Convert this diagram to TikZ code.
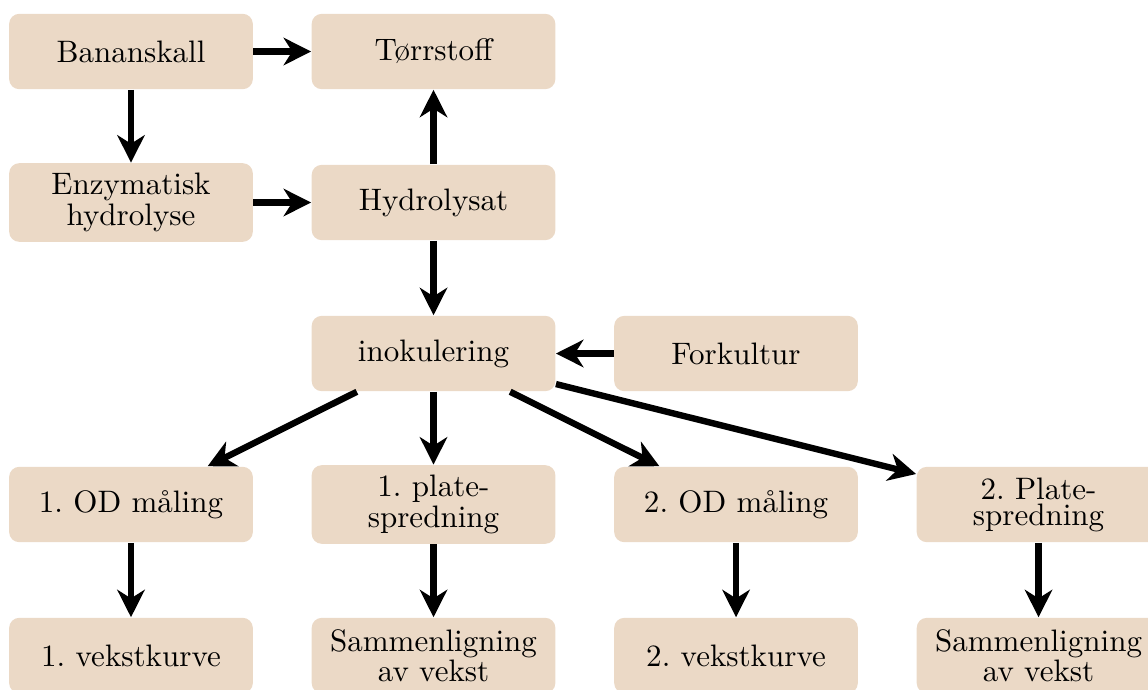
\documentclass[tikz,border=0pt]{standalone}
\usetikzlibrary{arrows.meta}
\definecolor{boksfarge}{RGB}{235,217,198}

\begin{document}
\begin{tikzpicture}[
boks/.style={fill=boksfarge,rounded corners=3.3pt,minimum height=0.87cm,
  text width=2.58cm,align=center,font=\fontsize{10.2}{10}\selectfont\frenchspacing},
pil/.style={line width=2.1pt,-{Stealth[length=9pt,width=9pt,inset=2.8pt]}}]
\useasboundingbox (-1.513,0.595) rectangle (11.746,-7.363);

\path
(0,0) node[boks] (banan) {Bananskall}
(3.494,0) node[boks] (torr) {Tørrstoff}
(0,-1.744) node[boks] (enzym) {Enzymatisk\\hydrolyse}
(3.494,-1.744) node[boks] (hydro) {Hydrolysat}
(3.494,-3.488) node[boks] (ino) {inokulering}
(6.988,-3.488) node[boks] (fork) {Forkultur};

\path
(0,-5.232) node[boks] (od1) {1. OD måling}
(3.494,-5.232) node[boks] (plate1) {1. plate-\\spredning}
(6.988,-5.232) node[boks] (od2) {2. OD måling}
(10.482,-5.232) node[boks] (plate2) {2. Plate-\\[-1.5pt]spredning}
(0,-6.976) node[boks] (kurve1) {1. vekstkurve}
(3.494,-6.976) node[boks] (sam1) {Sammenligning\\av vekst}
(6.988,-6.976) node[boks] (kurve2) {2. vekstkurve}
(10.482,-6.976) node[boks] (sam2) {Sammenligning\\av vekst};

\draw[pil] (banan) -- (torr);
\draw[pil] (banan) -- (enzym);
\draw[pil] (enzym) -- (hydro);
\draw[pil] (hydro) -- (torr);
\draw[pil] (hydro) -- (ino);
\draw[pil] (fork) -- (ino);

\draw[pil] (ino) -- (od1);
\draw[pil] (ino) -- (plate1);
\draw[pil] (ino) -- (od2);
\draw[pil] (ino) -- (plate2);

\draw[pil] (od1) -- (kurve1);
\draw[pil] (plate1) -- (sam1);
\draw[pil] (od2) -- (kurve2);
\draw[pil] (plate2) -- (sam2);
\end{tikzpicture}
\end{document}
